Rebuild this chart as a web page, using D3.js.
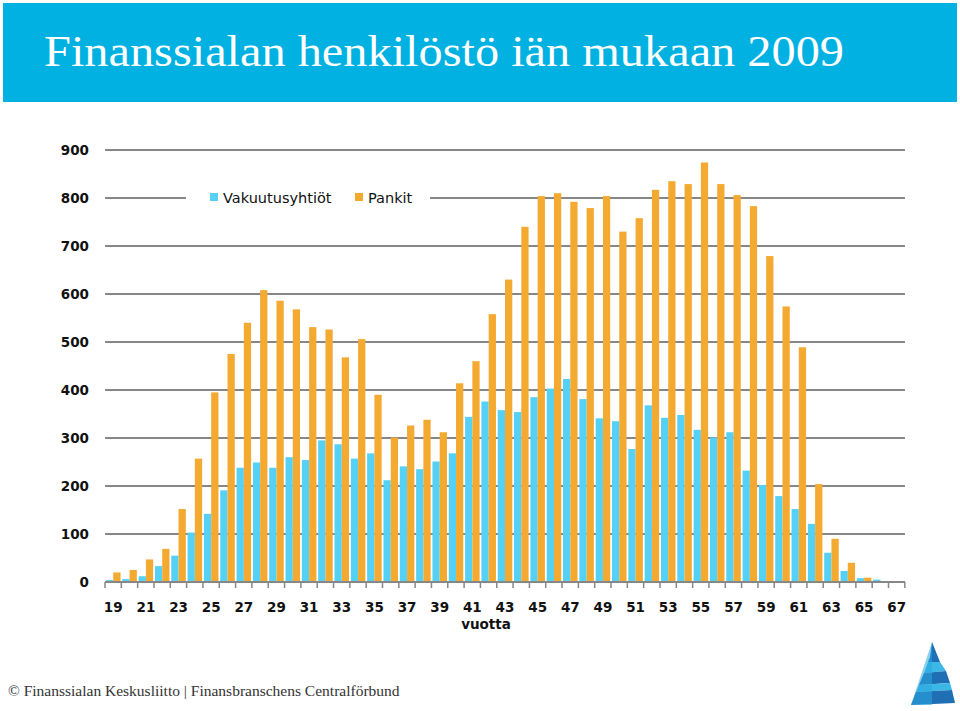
<!DOCTYPE html>
<html><head><meta charset="utf-8">
<script src="https://cdn.jsdelivr.net/npm/d3@7"></script>
<style>body{margin:0;background:#fff}svg{display:block}</style>
</head><body><svg id="c" width="960" height="711"></svg>
<script>
const ages = d3.range(19, 68);
const vakuutusyhtiot = [4,6,12,33,55,103,142,191,238,249,238,260,254,295,287,257,268,212,241,235,251,268,344,376,358,354,385,403,423,381,341,335,277,368,342,348,317,301,312,232,202,179,152,121,61,23,8,5,2];
const pankit = [20,25,47,69,152,257,395,475,540,608,586,568,531,526,468,506,390,301,326,338,312,414,460,558,630,740,804,810,792,779,804,730,758,817,835,829,874,829,806,783,679,574,489,204,90,40,9,2,1];
const yTicks = [0,100,200,300,400,500,600,700,800,900];
const xLabels = ages.filter(a => a % 2 === 1);
const seriesNames = ["Vakuutusyhtiöt", "Pankit"];
const colors = ["#55d1f6", "#f4a930"];

const svg = d3.select("#c");
// header
svg.append("rect").attr("x",3).attr("y",3).attr("width",954).attr("height",99).attr("fill","#00b1e1");
svg.append("text").attr("x",44).attr("y",66).attr("fill","#fff")
  .attr("font-family","'Liberation Serif','DejaVu Serif',serif").attr("font-size",45)
  .attr("textLength",800).attr("lengthAdjust","spacingAndGlyphs")
  .text("Finanssialan henkilöstö iän mukaan 2009");

const x = d3.scaleBand().domain(ages).range([105,905]).paddingInner(0.11).paddingOuter(0.06);
const xs = d3.scaleBand().domain([0,1]).range([0,x.bandwidth()]);
const y = d3.scaleLinear().domain([0,900]).range([582,150]);

// gridlines
svg.append("g").selectAll("line").data(yTicks.slice(1)).join("line")
  .attr("x1",105).attr("x2",905).attr("y1",d=>y(d)).attr("y2",d=>y(d))
  .attr("stroke","#878787").attr("stroke-width",2);

// y labels
svg.append("g").selectAll("text").data(yTicks).join("text")
  .attr("x",89).attr("y",d=>y(d)+5).attr("text-anchor","end")
  .attr("font-family","'DejaVu Sans',Verdana,sans-serif").attr("font-weight","bold")
  .attr("font-size",13.5).attr("fill","#111").text(d=>d);

// bars
const series = [vakuutusyhtiot, pankit];
series.forEach((vals,si)=>{
  svg.append("g").selectAll("rect").data(ages).join("rect")
    .attr("x",(a)=>x(a)+xs(si)).attr("width",xs.bandwidth())
    .attr("y",(a,i)=>y(vals[i])).attr("height",(a,i)=>y(0)-y(vals[i]))
    .attr("fill",colors[si]);
});

// x axis
const step = x.step();
svg.append("line").attr("x1",105).attr("x2",905).attr("y1",582).attr("y2",582)
  .attr("stroke","#878787").attr("stroke-width",2);
svg.append("g").selectAll("line").data(d3.range(ages.length+1)).join("line")
  .attr("x1",d=>105+d*step).attr("x2",d=>105+d*step).attr("y1",582).attr("y2",588)
  .attr("stroke","#878787").attr("stroke-width",1.5);
svg.append("g").selectAll("text").data(xLabels).join("text")
  .attr("x",d=>x(d)+x.bandwidth()/2).attr("y",612).attr("text-anchor","middle")
  .attr("font-family","'DejaVu Sans',Verdana,sans-serif").attr("font-weight","bold")
  .attr("font-size",13.5).attr("fill","#111").text(d=>d);
svg.append("text").attr("x",486).attr("y",629).attr("text-anchor","middle")
  .attr("font-family","'DejaVu Sans',Verdana,sans-serif").attr("font-weight","bold")
  .attr("font-size",13.5).attr("fill","#111").text("vuotta");

// legend
const lg = svg.append("g");
lg.append("rect").attr("x",186).attr("y",186).attr("width",244).attr("height",24).attr("fill","#fff");
const legX = [210, 355];
seriesNames.forEach((n,i)=>{
  lg.append("rect").attr("x",legX[i]).attr("y",193).attr("width",8).attr("height",8).attr("fill",colors[i]);
  lg.append("text").attr("x",legX[i]+13).attr("y",203)
    .attr("font-family","'DejaVu Sans',Verdana,sans-serif").attr("font-size",14.5).attr("fill","#111").text(n);
});

// footer
svg.append("text").attr("x",8).attr("y",696)
  .attr("font-family","'Liberation Serif','DejaVu Serif',serif").attr("font-size",15.5).attr("fill","#333")
  .text("© Finanssialan Keskusliitto | Finansbranschens Centralförbund");

// logo
const logo = svg.append("g");
logo.append("path").attr("d","M932,642 L938,657 L930,657 Z").attr("fill","#1f6fb5");
logo.append("path").attr("d","M930,657 L938,657 L940,662 L928,662 Z").attr("fill","#1f6fb5");
logo.append("path").attr("d","M928,662 L940,662 L946,671 L924,673 Z").attr("fill","#3cb8e6");
logo.append("path").attr("d","M924,673 L946,671 L950,683 L919,685 Z").attr("fill","#1f6fb5");
logo.append("path").attr("d","M919,685 L950,683 L952,690 L916,692 Z").attr("fill","#3cb8e6");
logo.append("path").attr("d","M916,692 L952,690 L955,703 L911,705 Z").attr("fill","#1f6fb5");
logo.append("path").attr("d","M932,642 L932,705 L911,705 Z").attr("fill","#2aa8de").attr("opacity",0.55);
</script></body></html>
